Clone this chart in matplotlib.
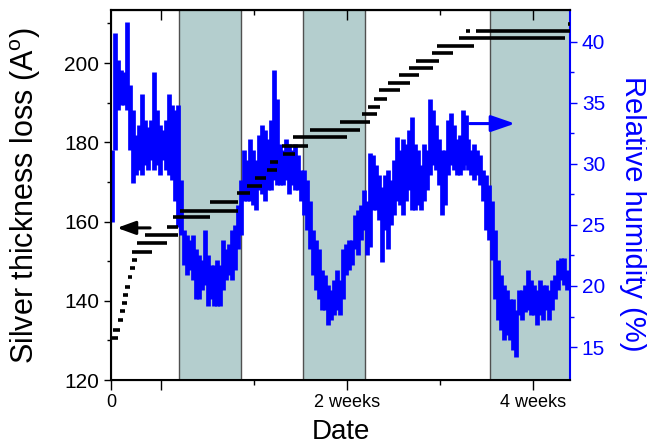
# =========================================================
#        SILVER THICKNESS LOSS vs RELATIVE HUMIDITY
# =========================================================

import numpy as np
import matplotlib.pyplot as plt

# =========================================================
# DATA
# =========================================================

# time unit: days from the start of the record
hum_t_first = 0.075
hum_t_last = 34.35

# humidity band, upper and lower edge (%), one pair per sample
hum_hi = [
    31.1, 40.7, 38.5, 37.7, 37.5, 41.6, 36.5, 34.4, 32.4, 33.2,
    35.7, 33.6, 33.0, 33.6, 37.5, 34.4, 33.2, 32.8, 33.6, 35.7,
    34.8, 34.4, 34.8, 28.7, 24.6, 24.2, 23.8, 24.2, 23.0, 22.5,
    22.1, 24.6, 22.5, 21.7, 21.7, 22.1, 21.7, 23.8, 23.0, 23.4,
    24.6, 25.0, 26.6, 28.7, 31.1, 30.3, 32.0, 31.1, 30.3, 32.4,
    33.2, 32.8, 32.0, 33.6, 37.7, 35.3, 31.6, 31.1, 32.0, 31.6,
    31.1, 31.6, 30.7, 29.5, 29.5, 28.7, 27.0, 24.6, 23.8, 23.0,
    21.3, 20.9, 20.1, 19.7, 20.5, 21.3, 20.5, 23.0, 23.4, 23.8,
    23.8, 25.8, 26.2, 26.6, 27.9, 27.0, 30.9, 30.7, 29.9, 29.1,
    28.1, 29.1, 29.5, 28.7, 30.3, 32.2, 31.1, 32.0, 31.6, 32.8,
    33.8, 31.6, 31.1, 29.9, 31.6, 31.1, 35.3, 34.4, 33.2, 32.0,
    31.1, 31.1, 33.6, 34.2, 33.2, 32.0, 32.4, 34.4, 34.0, 32.0,
    31.1, 31.6, 31.1, 30.7, 29.5, 29.1, 28.3, 27.0, 24.6, 22.1,
    20.9, 20.1, 19.7, 18.9, 18.9, 18.0, 19.7, 19.7, 20.1, 21.3,
    20.5, 20.1, 19.7, 20.5, 20.1, 20.1, 19.7, 20.5, 20.9, 22.1,
    22.3, 22.3, 21.3,
]

hum_lo = [
    25.2, 31.1, 34.4, 34.8, 34.8, 34.4, 31.1, 28.4, 29.1, 29.5,
    29.1, 29.9, 29.5, 30.3, 29.5, 29.9, 29.1, 30.3, 29.5, 29.1,
    28.7, 27.0, 24.8, 24.2, 21.7, 20.9, 21.3, 20.5, 18.9, 18.9,
    19.7, 20.1, 18.4, 18.9, 18.4, 18.4, 18.4, 19.7, 20.5, 20.9,
    20.5, 21.3, 23.0, 24.2, 27.0, 27.0, 27.0, 26.6, 26.2, 27.9,
    27.5, 27.0, 27.9, 27.9, 28.7, 28.3, 28.3, 28.3, 28.7, 27.5,
    28.3, 27.9, 27.9, 27.0, 25.8, 24.6, 23.0, 20.9, 19.7, 18.9,
    18.0, 18.0, 16.8, 17.2, 17.6, 18.0, 17.6, 18.9, 20.9, 21.3,
    21.7, 23.0, 22.5, 23.8, 24.6, 22.5, 23.2, 26.2, 26.2, 25.4,
    22.0, 24.6, 23.0, 25.0, 25.8, 27.0, 26.6, 25.8, 27.0, 27.9,
    26.2, 26.2, 26.6, 26.2, 27.0, 27.9, 29.1, 29.9, 29.5, 28.3,
    25.8, 26.6, 29.1, 29.9, 29.5, 29.1, 29.1, 29.5, 29.9, 29.5,
    29.1, 28.7, 29.1, 28.3, 27.0, 24.6, 23.8, 22.1, 18.9, 17.2,
    16.4, 15.6, 16.0, 15.6, 14.8, 14.2, 17.6, 17.2, 17.9, 18.0,
    17.6, 17.6, 16.8, 17.6, 17.2, 18.0, 17.2, 18.0, 18.9, 19.7,
    20.5, 20.1, 19.7,
]

# silver loss levels (A), each drawn as a run of points from start to end (days)
seg_start = [
    0.05, 0.13, 0.53, 0.68, 0.81, 0.93, 1.05, 1.30, 1.43, 1.56,
    1.56, 1.93, 2.56, 4.19, 4.67, 5.19, 7.45, 9.46, 10.21, 10.84,
    11.72, 11.97, 12.95, 12.85, 13.68, 14.98, 17.24, 18.87, 19.37, 19.80,
    20.17, 20.83, 21.68, 22.45, 22.93, 24.18, 24.51, 26.17, 26.70, 27.45,
    34.40,
]
seg_end = [
    0.55, 0.68, 0.90, 1.05, 1.18, 1.30, 1.43, 1.56, 1.81, 1.93,
    3.06, 4.19, 5.07, 5.07, 7.45, 9.58, 9.58, 10.46, 11.34, 11.67,
    12.47, 12.57, 13.85, 14.85, 17.74, 18.74, 19.49, 20.00, 20.25, 20.75,
    21.75, 22.50, 23.20, 24.26, 24.71, 25.72, 27.35, 34.17, 27.02, 34.55,
    34.55,
]
seg_level = [
    130.5, 132.6, 135.2, 137.3, 139.4, 141.5, 143.6, 146.1, 148.2, 150.3,
    152.4, 154.5, 156.6, 158.7, 161.1, 162.7, 164.9, 167.1, 169.0, 171.0,
    173.0, 175.0, 177.1, 179.2, 181.4, 183.1, 185.1, 187.2, 189.0, 191.0,
    193.1, 194.9, 196.9, 198.7, 200.6, 202.6, 204.4, 206.4, 208.2, 208.2,
    209.9,
]

# dark (night-like) periods, days
shade_start = [5.12, 14.47, 28.53]
shade_end = [9.76, 19.14, 34.60]

x_major = [0, 3.76, 17.76, 31.76]
x_major_labels = ["0", "", "2 weeks", "4 weeks"]
x_minor = [10.76, 24.76]

# =========================================================
# STYLE
# =========================================================

plt.rcParams["font.family"] = ["Liberation Sans", "DejaVu Sans"]
plt.rcParams["mathtext.default"] = "regular"

BLUE = "#0000ff"
SHADE = "#b4cece"

# =========================================================
# FIGURE
# =========================================================

fig = plt.figure(figsize=(6.47, 4.45), dpi=100)
ax = fig.add_axes([0.1716, 0.146, 0.7094, 0.8315])
ax2 = ax.twinx()

# thickness axis on top so its black points sit over the blue band
ax.set_zorder(ax2.get_zorder() + 1)
ax.patch.set_visible(False)

# shaded periods
for a, b in zip(shade_start, shade_end):
    ax2.axvspan(a, b, facecolor=SHADE, edgecolor="none", zorder=0)
    for edge in (a, b):
        ax2.axvline(edge, color="#505050", lw=1.0, zorder=1)

# humidity band
hum_t = np.linspace(hum_t_first, hum_t_last, len(hum_hi))
ax2.vlines(hum_t, hum_lo, hum_hi, color=BLUE, lw=3.4, zorder=2)

# silver thickness loss
ax.hlines(seg_level, seg_start, seg_end, color="black", lw=2.6, zorder=3)

# arrows pointing to each axis
ax.annotate(
    "", xy=(0.45, 158.4), xytext=(2.94, 158.4),
    arrowprops=dict(arrowstyle="-|>,head_length=1.1,head_width=0.4",
                    color="black", lw=2.2, mutation_scale=10,
                    shrinkA=0, shrinkB=0),
)
ax2.annotate(
    "", xy=(30.41, 33.3), xytext=(27.0, 33.3),
    arrowprops=dict(arrowstyle="-|>,head_length=1.45,head_width=0.5",
                    color=BLUE, lw=2.2, mutation_scale=10,
                    shrinkA=0, shrinkB=0),
)

# =========================================================
# AXES
# =========================================================

ax.set_xlim(0, 34.55)
ax.set_ylim(120, 213.4)
ax2.set_ylim(12.3, 42.6)

ax.set_xticks(x_major)
ax.set_xticklabels(x_major_labels)
ax.set_xticks(x_minor, minor=True)
ax.tick_params(axis="x", which="major", direction="out", length=7,
               width=1.0, labelsize=13, pad=3)
ax.tick_params(axis="x", which="minor", direction="out", length=3.5,
               width=1.0)

ax.set_yticks([120, 140, 160, 180, 200])
ax.set_yticks([130, 150, 170, 190, 210], minor=True)
ax.tick_params(axis="y", which="major", direction="out", length=5,
               width=1.0, labelsize=15)
ax.tick_params(axis="y", which="minor", direction="out", length=3,
               width=1.0)

ax2.set_yticks([15, 20, 25, 30, 35, 40])
ax2.set_yticks([17.5, 22.5, 27.5, 32.5, 37.5], minor=True)
ax2.tick_params(axis="y", which="major", direction="out", length=5,
                width=1.0, colors=BLUE, labelsize=15)
ax2.tick_params(axis="y", which="minor", direction="out", length=3,
                width=1.0, colors=BLUE)

# top ticks point inwards
top = ax.secondary_xaxis("top")
top.set_xticks([3.76, 17.76, 31.76])
top.set_xticks(x_minor, minor=True)
top.tick_params(axis="x", which="major", direction="in", length=7,
                width=1.0, labeltop=False)
top.tick_params(axis="x", which="minor", direction="in", length=3.5,
                width=1.0)
top.spines["top"].set_linewidth(1.5)

for side in ("left", "bottom", "top"):
    ax.spines[side].set_linewidth(1.5)
ax.spines["right"].set_visible(False)
ax2.spines["right"].set_color(BLUE)
ax2.spines["right"].set_linewidth(1.5)

ax.set_xlabel("Date", fontsize=20, va="center")
ax.xaxis.set_label_coords(0.5, -0.14)
ax.set_ylabel("Silver thickness loss (A$^{o}$)", fontsize=22, va="center")
ax.yaxis.set_label_coords(-0.187, 0.50)
ax2.set_ylabel("Relative humidity (%)", fontsize=21, color=BLUE,
               rotation=270, va="center")
ax2.yaxis.set_label_coords(1.137, 0.449)

fig.savefig("out.png", dpi=100)
